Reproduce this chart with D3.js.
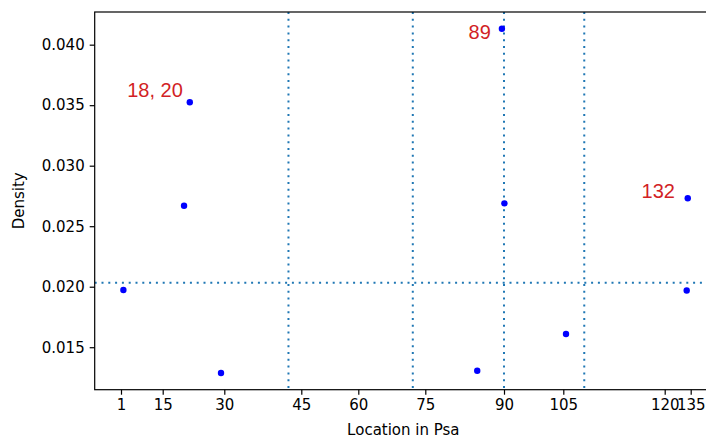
<!DOCTYPE html>
<html>
<head>
<meta charset="utf-8">
<script src="https://cdn.jsdelivr.net/npm/d3@7"></script>
<style>
  body { margin: 0; background: #fff; }
  svg { display: block; }
</style>
</head>
<body>
<div id="chart"></div>
<script>
// residue locations (x) and density (y) for each point
const pointX = [1.8, 20.2, 21.6, 29.2, 84.9, 89.6, 90.1, 105.4, 132.7, 133.3];
const pointY = [0.01973, 0.02669, 0.03524, 0.01287, 0.01306, 0.04132, 0.02689, 0.01609, 0.01969, 0.02731];

// red annotations
const noteText = ["18, 20", "89", "132"];
const noteX = [19.9, 87.5, 125.9];
const noteY = [0.0357, 0.04047, 0.02733];

// dotted reference lines
const vLines = [42.5, 72.2, 90, 108.1];
const hLine = 0.02033;

// axis ticks
const xTicks = [1, 15, 30, 45, 60, 75, 90, 105, 120, 135];
const xTickPx = [26.3, 68, 129.6, 206.6, 263.6, 330.6, 409.3, 468.6, 570, 596];
const yTicks = [0.015, 0.020, 0.025, 0.030, 0.035, 0.040];
const yDomain = [0.01149, 0.0427];

(() => {
  const W = 706, H = 440;
  const margin = {top: 12, left: 94.7, right: -6, bottom: 50.3};
  const width = W - margin.left - margin.right;
  const height = H - margin.top - margin.bottom;

  const svg = d3.select("#chart").append("svg")
      .attr("width", W)
      .attr("height", H);

  const g = svg.append("g")
      .attr("transform", `translate(${margin.left},${margin.top})`);

  // piecewise scale through the tick positions
  const x = d3.scaleLinear().domain(xTicks).range(xTickPx);
  const y = d3.scaleLinear().domain(yDomain).range([height, 0]);

  const dotted = "#1f77b4";

  // vertical dotted lines
  g.selectAll(".vline")
    .data(vLines)
    .enter()
    .append("line")
    .attr("x1", d => x(d)).attr("x2", d => x(d))
    .attr("y1", 0).attr("y2", height)
    .attr("stroke", dotted)
    .attr("stroke-width", 2)
    .attr("stroke-dasharray", "2,4.8");

  // horizontal dotted line
  g.append("line")
    .attr("x1", 0).attr("x2", width)
    .attr("y1", y(hLine)).attr("y2", y(hLine))
    .attr("stroke", dotted)
    .attr("stroke-width", 2)
    .attr("stroke-dasharray", "2,4.8");

  // points
  g.selectAll(".pt")
    .data(pointX.map((d, i) => [d, pointY[i]]))
    .enter()
    .append("circle")
    .attr("cx", d => x(d[0]))
    .attr("cy", d => y(d[1]))
    .attr("r", 3.2)
    .attr("fill", "#0000ff");

  // annotations
  g.selectAll(".note")
    .data(noteText)
    .enter()
    .append("text")
    .attr("x", (d, i) => x(noteX[i]))
    .attr("y", (d, i) => y(noteY[i]))
    .attr("text-anchor", "end")
    .style("font-family", "'Liberation Sans', Arial, sans-serif")
    .style("font-size", "20px")
    .attr("fill", "#d21f26")
    .text(d => d);

  // axes
  const axeX = d3.axisBottom(x).tickValues(xTicks).tickFormat(d => d).tickSizeOuter(0).tickSize(5).tickPadding(5);
  const axeY = d3.axisLeft(y).tickValues(yTicks).tickFormat(d3.format(".3f")).tickSizeOuter(0).tickSize(5).tickPadding(5);

  const groupeX = g.append("g").attr("transform", `translate(0,${height})`).call(axeX);
  const groupeY = g.append("g").call(axeY);

  [groupeX, groupeY].forEach(a => {
    a.select(".domain").remove();
    a.selectAll("line").attr("stroke", "#000").attr("stroke-width", 1.2);
    a.selectAll("text")
      .style("font-family", "'DejaVu Sans', sans-serif")
      .style("font-size", "15px")
      .attr("fill", "#000");
  });

  // frame
  g.append("rect")
    .attr("width", width).attr("height", height)
    .attr("fill", "none")
    .attr("stroke", "#000")
    .attr("stroke-width", 1.2);

  // axis labels
  svg.append("text")
    .attr("x", margin.left + width / 2)
    .attr("y", 435)
    .attr("text-anchor", "middle")
    .style("font-family", "'DejaVu Sans', sans-serif")
    .style("font-size", "15px")
    .text("Location in Psa");

  svg.append("text")
    .attr("transform", `translate(24,${margin.top + height / 2}) rotate(-90)`)
    .attr("text-anchor", "middle")
    .style("font-family", "'DejaVu Sans', sans-serif")
    .style("font-size", "15px")
    .text("Density");
})();
</script>
</body>
</html>
